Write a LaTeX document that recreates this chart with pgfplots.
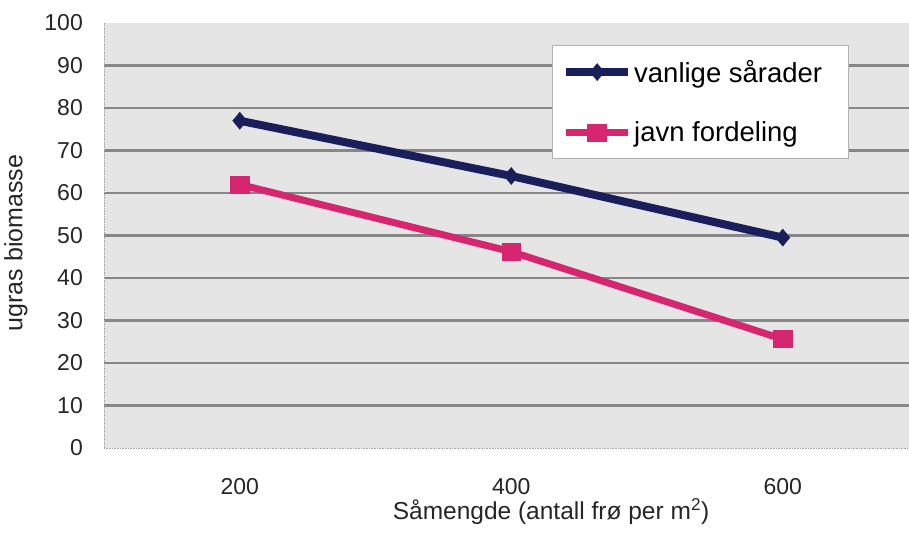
\documentclass[border=0pt]{standalone}
\usepackage{fontspec}
\setmainfont{Liberation Sans}
\usepackage{pgfplots}
\pgfplotsset{compat=1.18}
\definecolor{navy}{RGB}{26,30,90}
\definecolor{rosa}{RGB}{214,38,112}
\definecolor{bg}{RGB}{229,229,229}
\definecolor{gridc}{RGB}{135,135,138}
\begin{document}
\begin{tikzpicture}[x=1bp,y=1bp]
\begin{axis}[
  at={(104bp,89bp)}, anchor=south west,
  scale only axis, width=805bp, height=425bp,
  xmin=-0.5, xmax=2.465, ymin=0, ymax=100,
  xtick={0,1,2}, xticklabels={200,400,600},
  ytick={10,20,...,90}, extra y ticks={0,100},
  extra y tick style={grid=none},
  ymajorgrids, major grid style={line width=2.8bp, color=gridc},
  major tick length=0pt,
  separate axis lines,
  axis x line*=bottom, axis y line*=left,
  axis line style={gray!70, densely dotted, line width=0.6bp},
  axis background/.style={fill=bg},
  /pgf/number format/assume math mode=true,
  tick label style={font=\fontsize{23bp}{26bp}\selectfont, text=black!85},
  yticklabel style={anchor=east, inner sep=0pt, xshift=-21bp},
  xticklabel style={anchor=center, inner sep=0pt, yshift=-39bp},
  legend style={at={(0.5565,0.948)}, anchor=north west, draw=gray!60, fill=white,
    font=\fontsize{27.5bp}{30bp}\selectfont, inner xsep=10bp, inner ysep=13bp,
    row sep=34bp, cells={anchor=west}},
  legend image code/.code={\draw[#1, mark repeat=2, mark phase=2] plot coordinates {(0bp,0bp) (31bp,0bp) (62bp,0bp)};},
  /tikz/every odd column/.append style={column sep=0bp},
]
\addplot[navy, line width=8bp, mark=diamond*, mark size=8.5bp, mark options={xscale=1.1, line width=0.5bp}]
  coordinates {(0,77) (1,64) (2,49.5)};
\addlegendentry{vanlige sårader\hspace*{14bp}}
\addplot[rosa, line width=7bp, mark=square*, mark size=9bp, mark options={xscale=1.05, yscale=0.95, line width=0.5bp}]
  coordinates {(0,62) (1,46.2) (2,25.6)};
\addlegendentry{javn fordeling}
\end{axis}
\node[rotate=90, font=\fontsize{25bp}{28bp}\selectfont, text=black!85] at (16,294) {ugras biomasse};
\node[font=\fontsize{24.5bp}{28bp}\selectfont, text=black!85] at (551,25) {Såmengde (antall frø per m\textsuperscript{2})};
\pgfresetboundingbox
\path[use as bounding box] (0,0) rectangle (909,537);
\end{tikzpicture}
\end{document}
